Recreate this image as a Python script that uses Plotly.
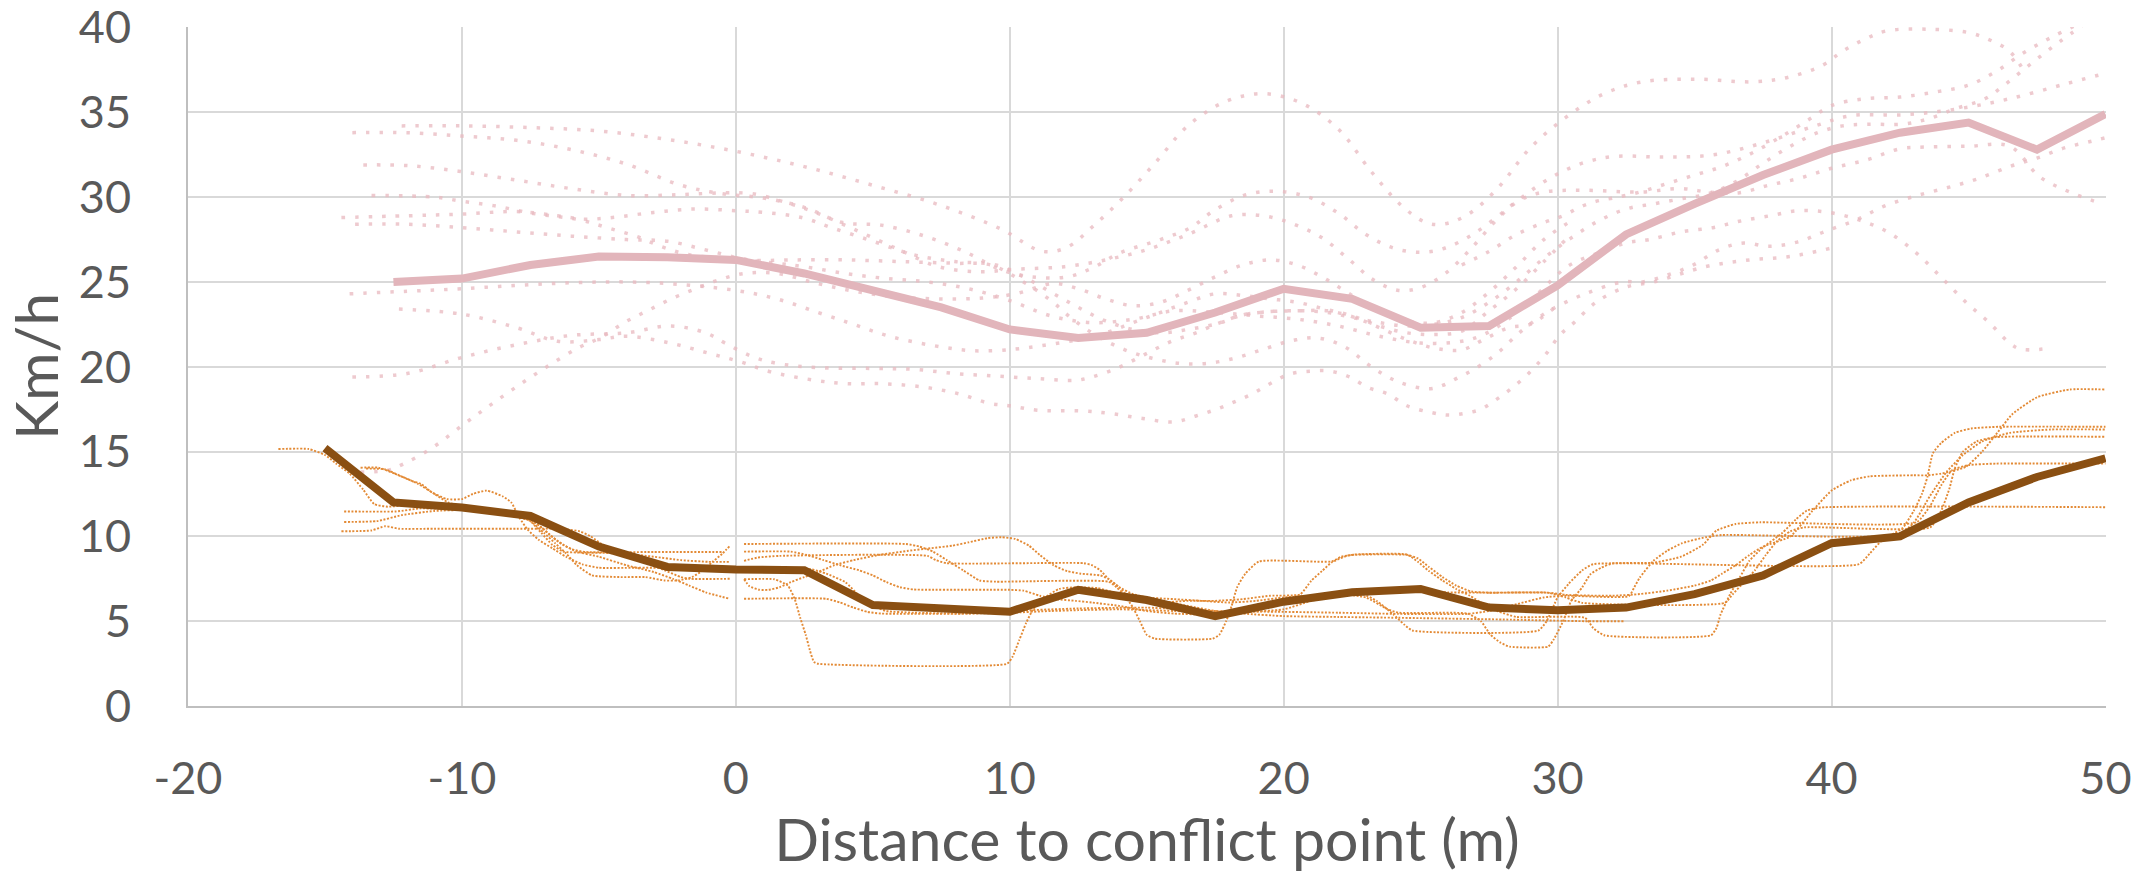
import plotly.graph_objects as go

# ---------------- mean curves ----------------
dist_pink_mean = [-12.5, -10, -7.5, -5, -2.5, 0, 2.5, 5, 7.5, 10, 12.5, 15, 17.5, 20,
                  22.5, 25, 27.5, 30, 32.5, 35, 37.5, 40, 42.5, 45, 47.5, 50]
speed_pink_mean = [25.0, 25.2, 26.0, 26.5, 26.45, 26.3, 25.5, 24.5, 23.5, 22.2, 21.7, 22.0, 23.2, 24.6,
                   24.0, 22.3, 22.4, 24.8, 27.8, 29.6, 31.3, 32.8, 33.8, 34.4, 32.8, 34.9]

dist_brown_mean = [-15, -12.5, -10, -7.5, -5, -2.5, 0, 2.5, 5, 7.5, 10, 12.5, 15, 17.5, 20,
                   22.5, 25, 27.5, 30, 32.5, 35, 37.5, 40, 42.5, 45, 47.5, 50]
speed_brown_mean = [15.2, 12.0, 11.7, 11.2, 9.4, 8.2, 8.05, 8.0, 5.95, 5.8, 5.56, 6.85, 6.25, 5.3, 6.15,
                    6.7, 6.9, 5.8, 5.65, 5.8, 6.6, 7.7, 9.6, 10.0, 12.0, 13.5, 14.6]

# ---------------- individual pink trajectories (distance, speed) ----------------
pink_01 = [(-12.2, 34.2), (-10, 34.2), (-7.5, 34.1), (-5, 33.9), (-2.5, 33.4), (0, 32.7), (2.5, 31.8), (5, 30.7),
           (7.5, 29.5), (9.7, 28.1), (11.2, 26.8), (12.1, 27.05), (13.05, 28.3), (14.1, 29.9), (15.3, 32.0),
           (16.5, 34.2), (17.9, 35.65), (19.3, 36.1), (20.7, 35.5), (22.0, 34.0), (23.2, 31.5), (24.3, 29.5),
           (25.2, 28.5), (25.8, 28.4), (26.7, 28.95), (27.8, 30.5), (29.0, 32.9), (30.3, 34.7), (31.7, 36.1),
           (33.1, 36.8), (35.1, 36.95), (37.2, 36.8), (38.5, 37.1), (39.7, 37.8), (40.4, 38.6), (41.2, 39.3),
           (42.0, 39.8), (43.5, 39.9), (45.0, 39.7), (45.8, 39.25), (46.5, 38.6), (47.0, 37.5)]
pink_02 = [(-14, 33.8), (-12, 33.8), (-10, 33.6), (-8, 33.35), (-6, 32.8), (-4, 31.95), (-2, 30.7), (-0.5, 30.2),
           (1, 29.95), (2.5, 29.4), (3.9, 28.5), (5.3, 28.35), (6.9, 27.7), (8.4, 26.75), (9.7, 25.7), (10.8, 25.3),
           (12.1, 25.3), (13.05, 25.85), (14.0, 26.7), (15.5, 27.5), (16.6, 28.2), (17.4, 29.15), (18.55, 30.1),
           (19.7, 30.35), (20.9, 30.0), (22.0, 29.05), (23.0, 27.8), (24.0, 27.0), (25.0, 26.75), (25.9, 27.0),
           (26.9, 27.8), (27.8, 28.85), (28.5, 29.75), (29.7, 31.1), (30.9, 32.0), (32.1, 32.4), (33.9, 32.36),
           (35.7, 32.5), (37.5, 33.2), (39.4, 34.2), (40.7, 34.8), (42.7, 34.86), (44.6, 35.2), (46.5, 35.8),
           (48.6, 36.7), (50, 37.3)]
pink_03 = [(-13.6, 31.9), (-11.9, 31.85), (-10, 31.5), (-8, 31.0), (-6, 30.5), (-4, 30.1), (-2, 30.15),
           (-0.5, 30.25), (0.6, 30.2), (1.8, 29.7), (2.9, 29.1), (4.5, 27.97), (6.0, 26.87), (7.4, 25.9),
           (8.9, 25.6), (10.2, 25.75), (12, 25.9), (13.5, 26.3), (15, 26.9), (16.5, 27.8), (18.1, 28.9),
           (19.25, 28.9), (20.3, 28.45), (21.4, 27.6), (22.4, 26.3), (23.3, 25.1), (24.2, 24.5), (25, 24.67),
           (25.9, 25.5), (26.86, 27.0), (27.8, 28.7), (28.6, 29.8), (29.5, 30.3), (31, 30.4), (33, 30.3),
           (34.5, 30.5), (35.5, 30.3), (36.6, 30.25), (37.7, 30.7), (38.8, 31.1), (40.0, 31.7), (41.3, 32.2),
           (42.5, 32.85), (43.4, 32.95), (45, 33.0), (46.5, 33.0), (47.6, 31.2), (48.7, 30.3), (49.8, 29.65)]
pink_04 = [(-13.3, 30.1), (-11, 30.0), (-10, 29.76), (-8.85, 29.5), (-7.4, 29.04), (-5.7, 28.66), (-4.7, 28.2),
           (-3.66, 27.7), (-2.66, 27.05), (-1.7, 26.6), (0.1, 26.34), (1.5, 26.1), (2.5, 25.9), (4, 25.5),
           (5.5, 25.2), (7, 25.0), (8.5, 24.6), (10, 23.9), (11.5, 23.0), (13, 22.6), (14.5, 22.8), (16, 23.3),
           (17.5, 23.2), (19, 23.0), (20.5, 22.8), (22, 22.4), (23.5, 21.8), (25, 21.4), (26.5, 21.5),
           (27.3, 21.9), (28.2, 22.8), (29.2, 24.2), (30.4, 25.95), (31.56, 26.75), (32.5, 27.3), (33.36, 27.5),
           (34.56, 27.97), (35.67, 28.2), (36.64, 28.58), (37.75, 28.9), (38.8, 29.2), (39.9, 29.1), (41.0, 28.66),
           (42.1, 27.9), (43.1, 26.7), (44.05, 25.2), (44.95, 23.74), (45.76, 22.6), (46.5, 21.4), (46.9, 21.04),
           (47.7, 21.04)]
pink_05 = [(-14.4, 28.8), (-12, 28.9), (-10, 29.0), (-8, 29.15), (-6.5, 28.9), (-5.5, 28.7), (-4.5, 28.8),
           (-3, 29.1), (-1.5, 29.3), (0, 29.2), (1, 29.1), (2.4, 28.8), (3.5, 28.2), (5, 27.4), (6.5, 26.6),
           (8, 26.2), (9.5, 26.0), (10.5, 25.3), (11.5, 24.4), (12.5, 23.5), (13.5, 22.7), (14.5, 22.2),
           (15.5, 22.0), (16.5, 22.2), (17.6, 22.55), (18.5, 23.05), (19.5, 23.25), (20.6, 23.3), (21.6, 23.2),
           (22.5, 22.9), (23.5, 22.6), (24.5, 22.4), (25.5, 22.5), (26.5, 22.9), (27.5, 23.8), (28.5, 25.0),
           (29.5, 26.4), (30.5, 27.6), (31.5, 28.6), (32.5, 29.3), (33.5, 29.6), (34.5, 29.9), (35.5, 30.2),
           (36.5, 30.9), (37.5, 32.0), (38.5, 33.0), (39.5, 33.8), (40.4, 34.2), (41.3, 34.3), (42.6, 34.3),
           (43.5, 34.6), (44.5, 35.2), (45.6, 35.8), (46.3, 36.6), (47.0, 37.5), (47.7, 38.4), (48.4, 39.25),
           (49.15, 40.1)]
pink_06 = [(-13.9, 28.4), (-12, 28.4), (-10, 28.2), (-8, 27.95), (-6, 27.7), (-4, 27.5), (-2.5, 27.4),
           (-1, 26.85), (0.5, 26.3), (2, 26.3), (4, 26.3), (6, 26.2), (8, 26.1), (9.3, 26.0), (10.5, 25.0),
           (11.5, 23.9), (12.3, 22.8), (13.2, 21.8), (14.2, 21.0), (15.2, 20.5), (16.2, 20.2), (17.2, 20.2),
           (18.2, 20.5), (19.2, 21.0), (20.2, 21.5), (21.2, 21.7), (22.2, 21.2), (23.2, 20.0), (24.2, 19.1),
           (25.3, 18.7), (25.8, 18.9), (26.3, 19.3), (27.0, 19.9), (27.8, 20.8), (28.6, 22.0), (29.4, 23.0),
           (29.86, 23.45), (31.0, 24.3), (32.36, 25.0), (33.1, 25.0), (34.0, 25.4), (34.95, 26.0), (35.9, 26.9),
           (36.8, 27.3), (37.7, 27.1), (38.75, 27.35), (39.75, 27.97), (40.9, 28.66), (41.9, 29.45), (43.0, 30.04),
           (44.16, 30.53), (45.3, 31.06), (46.5, 31.8), (47.5, 32.3), (48.5, 32.9), (49.5, 33.3), (50, 33.5)]
pink_07 = [(-14.1, 24.3), (-12, 24.45), (-10, 24.6), (-8, 24.8), (-6, 24.95), (-4, 25.0), (-2, 24.85), (0, 24.5),
           (1.5, 24.0), (3, 23.2), (4.3, 22.5), (5.6, 21.8), (7.2, 21.25), (8.7, 20.94), (10.2, 21.04),
           (11.4, 21.3), (12.5, 21.6), (13.5, 22.0), (14.5, 22.6), (15.5, 23.2), (16.5, 23.8), (17.5, 24.3),
           (18.5, 24.2), (19.5, 24.0), (20.5, 23.8), (21.5, 23.4), (22.5, 23.0), (23.5, 22.4), (24.5, 22.0),
           (25.5, 21.9), (26.5, 22.1), (27.5, 23.3), (28.5, 24.6), (29.5, 26.2), (30.3, 27.5)]
pink_08 = [(-12.3, 23.4), (-10, 23.1), (-8, 22.3), (-6.5, 21.5), (-5, 21.6), (-4, 21.8), (-2.4, 21.4), (-1, 20.8),
           (0.15, 20.3), (1.27, 19.7), (2.9, 19.2), (4.06, 19.0), (5.36, 19.0), (6.85, 18.8), (8.15, 18.4),
           (9.27, 17.84), (10, 17.7), (11, 17.44), (12.65, 17.4), (13.7, 17.24), (14.85, 16.95), (16.0, 16.75),
           (16.8, 17.1), (17.55, 17.5), (18.2, 17.93), (18.85, 18.4), (19.5, 19.0), (20.2, 19.56), (20.96, 19.74),
           (21.7, 19.74), (22.4, 19.4), (23.1, 18.76), (23.8, 18.4), (24.5, 17.7), (25.4, 17.3), (26.0, 17.15),
           (26.6, 17.25), (27.2, 17.5), (27.7, 18.0), (28.3, 18.7), (29.0, 19.7), (29.6, 20.8), (30.1, 21.9),
           (30.6, 22.6), (31.4, 23.8), (32.5, 24.7), (33.5, 25.0), (35.4, 25.9), (37, 26.3), (38.5, 26.5),
           (40, 27.0)]
pink_09 = [(-14, 19.4), (-12, 19.6), (-10, 20.55), (-8, 21.3), (-6, 21.85), (-4, 22.0), (-2.4, 22.4), (-1.1, 22.0),
           (-0.4, 21.4), (0.6, 20.6), (1.5, 20.2), (3, 19.95), (5, 19.9), (6.5, 19.85), (8, 19.6), (9.5, 19.45),
           (11, 19.3), (12.4, 19.2), (13.0, 19.4), (13.9, 19.9), (14.9, 20.7), (15.9, 21.5), (16.8, 22.0),
           (17.6, 22.55), (18.5, 23.05), (19.5, 23.25), (20.6, 23.3), (21.6, 23.3), (22.6, 22.9), (23.5, 22.3),
           (24.5, 21.6), (25.5, 21.1), (26.5, 21.0), (27.3, 21.6), (28.2, 22.3), (29.0, 22.5), (29.86, 23.45)]
pink_10 = [(-13.7, 13.8), (-12.7, 13.9), (-12.1, 14.3), (-11.1, 15.2), (-9.94, 16.6), (-9.0, 17.7), (-7.97, 18.86),
           (-6.86, 20.04), (-5.72, 21.14), (-4.9, 21.75), (-4.08, 22.6), (-3.23, 23.3), (-2.36, 24.0),
           (-1.47, 24.6), (-0.66, 25.1), (0.3, 25.5), (1.5, 25.5), (3.0, 24.9), (4.5, 24.4), (6.0, 24.1),
           (7.5, 24.0), (9.0, 24.05), (10.2, 24.3), (11.6, 24.9), (12.5, 24.6), (13.5, 24.0), (14.5, 23.6),
           (15.5, 23.8), (16.5, 24.5), (17.5, 25.3), (18.5, 26.0), (19.5, 26.3), (20.5, 26.0), (21.5, 25.2),
           (22.5, 24.2), (23.5, 23.3), (24.5, 22.7), (25.5, 22.6), (26.5, 23.2), (27.5, 24.4), (28.5, 25.9),
           (29.5, 27.5), (30.5, 28.6)]
pink_11 = [(26.5, 26.0), (27.5, 26.8), (28.5, 27.8), (29.5, 28.5), (30.2, 28.9), (30.8, 29.4), (31.4, 29.75),
           (32.0, 29.94), (33.0, 30.3), (34.0, 30.8), (35.0, 31.3), (36.0, 31.8), (37.1, 32.6), (38.2, 33.6),
           (39.2, 34.6), (40.0, 35.4), (41.2, 35.8), (42.5, 35.9), (43.8, 36.2), (45.0, 36.6), (46.0, 37.4),
           (47.0, 38.5), (48.0, 39.4), (49.0, 40.2)]

# ---------------- individual orange trajectories (distance, speed) ----------------
orange_01 = [(-16.7, 15.15), (-15.6, 15.15), (-15.0, 14.8), (-14.6, 14.3), (-14.1, 13.7), (-13.6, 12.75),
             (-13.2, 11.9), (-12.7, 11.75), (-12.0, 11.85), (-11.0, 11.9), (-10.0, 11.7), (-9.0, 11.4),
             (-8.0, 11.25), (-7.5, 11.0), (-7.0, 10.4), (-6.5, 9.7), (-6.0, 9.25), (-5.5, 9.08), (-3.0, 9.08),
             (-0.45, 9.08)]
orange_02 = [(-13.7, 14.05), (-13.05, 14.05), (-12.45, 13.7), (-11.8, 13.25), (-11.5, 13.1), (-11.1, 12.6),
             (-10.55, 12.2), (-10.0, 12.2), (-9.6, 12.5), (-9.1, 12.7), (-8.5, 12.35), (-8.2, 12.0), (-7.9, 11.1),
             (-7.6, 10.4), (-7.2, 9.8), (-6.7, 9.3), (-6.2, 8.8), (-5.6, 8.35), (-5.0, 8.15), (-3.7, 8.15),
             (-2.0, 8.15), (-0.2, 8.15)]
orange_03 = [(-14.3, 11.47), (-12.4, 11.47), (-11.5, 11.65), (-10.0, 11.55), (-9.0, 11.4), (-8.0, 11.15),
             (-7.5, 10.9), (-7.0, 10.2), (-6.6, 9.6), (-6.2, 9.0), (-5.8, 8.3), (-5.25, 7.7), (-4.2, 7.6),
             (-3.3, 7.6), (-2.6, 7.4), (-2.1, 7.4), (-1.6, 7.6), (-1.2, 8.0), (-0.85, 8.5), (-0.5, 8.97),
             (-0.2, 9.47)]
orange_04 = [(-14.3, 10.85), (-13.1, 10.9), (-12.2, 11.25), (-11.0, 11.5), (-10.0, 11.55), (-9.0, 11.45),
             (-8.0, 11.3), (-7.5, 10.9), (-7.1, 10.2), (-6.7, 9.5), (-6.3, 9.1), (-5.8, 9.05), (-4.5, 9.0),
             (-3.5, 8.6), (-2.6, 8.0), (-2.0, 7.6), (-1.7, 7.5), (-0.2, 7.5)]
orange_05 = [(-14.4, 10.3), (-13.3, 10.35), (-12.8, 10.6), (-12.3, 10.45), (-11.0, 10.45), (-8.0, 10.45),
             (-6.5, 10.45), (-6.1, 10.4), (-5.7, 10.3), (-5.3, 10.0), (-4.9, 9.55), (-4.4, 9.2), (-4.0, 9.0),
             (-3.0, 8.8), (-2.0, 8.6), (-1.0, 8.5), (-0.2, 8.5)]
orange_06 = [(-13.5, 14.0), (-12.8, 13.95), (-12.3, 13.6), (-11.6, 13.1), (-11.0, 12.5), (-10.5, 12.0),
             (-10.0, 11.8), (-9.0, 11.6), (-8.0, 11.4), (-7.3, 10.8), (-6.8, 10.1), (-6.3, 9.5), (-5.8, 9.1),
             (-5.0, 8.8), (-4.0, 8.3), (-3.0, 7.9), (-2.3, 7.5), (-1.7, 7.1), (-1.1, 6.7), (-0.25, 6.33)]
orange_07 = [(0.3, 9.55), (6.2, 9.55), (6.7, 9.4), (7.2, 9.1), (7.7, 8.6), (8.3, 8.0), (8.9, 7.4), (9.5, 7.33),
             (13.6, 7.33), (13.9, 7.0), (14.2, 6.5), (14.5, 5.8), (14.75, 5.0), (15.0, 4.2), (15.3, 3.97),
             (17.4, 3.97), (17.65, 4.2), (17.9, 5.0), (18.1, 5.9), (18.3, 7.0), (18.6, 7.8), (19.1, 8.52),
             (21.75, 8.52), (22.1, 8.8), (22.5, 8.91), (24.5, 8.91), (24.9, 8.7), (25.3, 8.2), (25.8, 7.6),
             (26.3, 7.1), (26.85, 6.75), (27.5, 6.68), (29.65, 6.68), (30.3, 6.4), (30.9, 6.08), (36.1, 6.08),
             (36.4, 6.6), (36.8, 7.3), (37.2, 8.0), (37.6, 8.9), (38.0, 9.7), (38.5, 10.3), (39.0, 10.53),
             (43.6, 10.53), (44.0, 11.5), (44.3, 12.8), (44.5, 14.0), (44.8, 15.0), (45.3, 15.6), (46.0, 15.85),
             (50, 15.87)]
orange_08 = [(0.3, 9.1), (2.0, 9.1), (2.6, 8.9), (3.2, 8.6), (3.8, 8.3), (4.5, 8.0), (5.0, 7.7), (5.5, 7.3),
             (6.0, 7.0), (6.5, 6.87), (10.0, 6.85), (10.5, 6.8), (11.1, 6.5), (11.7, 6.3), (12.4, 6.2),
             (13.0, 6.1), (14.0, 5.9), (15, 5.6), (16, 5.45), (17, 5.4), (18, 5.5), (19, 5.9), (20, 6.3),
             (21, 6.5), (22, 6.6), (23, 6.4), (23.8, 5.7), (24.2, 5.5), (26.7, 5.45), (27.2, 5.0), (27.55, 4.2),
             (27.9, 3.75), (28.25, 3.5), (29.65, 3.5), (29.85, 3.9), (30.2, 5.0), (30.5, 6.2), (30.9, 7.0),
             (31.2, 7.77), (31.6, 8.16), (32.0, 8.4), (33.5, 8.45), (34.5, 8.8), (35.3, 9.5), (35.8, 10.34),
             (36.5, 10.73), (37.4, 10.83), (43.1, 10.83), (43.6, 11.8), (44.0, 13.0), (44.4, 13.9), (45.0, 14.2),
             (46.0, 14.29), (50, 14.29)]
orange_09 = [(0.3, 8.56), (0.8, 8.75), (1.6, 8.85), (7.0, 8.85), (7.3, 8.6), (7.7, 8.42), (12.7, 8.42),
             (13.0, 8.3), (13.3, 8.0), (13.6, 7.5), (14.0, 7.0), (14.3, 6.5), (14.8, 6.2), (15.5, 6.1), (16.5, 6.2),
             (17.5, 6.2), (18.5, 6.3), (19.5, 6.5), (20.6, 6.58), (21.0, 7.37), (21.4, 7.96), (21.75, 8.46),
             (22.3, 8.85), (22.6, 8.93), (24.5, 8.93), (24.9, 8.5), (25.3, 7.96), (25.8, 7.4), (26.3, 6.9),
             (26.8, 6.5), (27.3, 6.0), (27.8, 5.6), (28.5, 5.25), (31.0, 5.2), (31.3, 4.6), (31.7, 4.17),
             (35.6, 4.17), (35.8, 4.6), (35.95, 5.4), (36.3, 6.6), (36.65, 7.57), (37.0, 8.56), (37.5, 9.35),
             (38.2, 10.2), (38.7, 11.0), (39.1, 11.52), (39.6, 11.7), (50, 11.72)]
orange_10 = [(0.3, 8.06), (2.75, 8.06), (3.3, 7.8), (4.0, 7.3), (4.5, 6.5), (5.0, 5.9), (5.5, 5.6), (6.5, 5.5),
             (8.5, 5.45), (10.0, 5.5), (11.5, 5.6), (12.5, 5.65), (14.0, 5.7), (16.0, 5.6), (18.0, 5.5),
             (20.0, 5.7), (21.0, 6.2), (22.0, 6.5), (22.9, 6.58), (23.4, 6.19), (24.0, 5.4), (24.4, 4.8),
             (24.7, 4.45), (29.3, 4.45), (29.6, 5.0), (30.0, 6.4), (30.4, 7.2), (30.9, 8.0), (31.3, 8.36),
             (41.0, 8.36), (41.4, 9.0), (41.8, 9.7), (42.2, 10.1), (42.6, 10.5), (43.0, 11.5), (43.3, 12.5),
             (43.5, 13.5), (43.7, 14.9), (44.0, 15.5), (44.5, 16.1), (45.1, 16.36), (46.1, 16.46), (50, 16.46)]
orange_11 = [(0.3, 7.47), (1.4, 7.47), (1.9, 7.1), (2.15, 6.3), (2.35, 5.2), (2.55, 4.2), (2.7, 3.3), (2.85, 2.6),
             (3.0, 2.49), (9.9, 2.49), (10.1, 2.9), (10.35, 3.9), (10.6, 4.9), (10.85, 5.7), (11.2, 6.3),
             (11.8, 6.9), (12.45, 7.0), (13.2, 6.95), (13.8, 6.7), (14.5, 6.4), (15.5, 6.2), (16.5, 5.9),
             (17.5, 5.6), (18.5, 5.45), (20.0, 5.3), (22.0, 5.25), (24.2, 5.2), (28.0, 5.1), (31.0, 5.0),
             (32.45, 5.0)]
orange_12 = [(0.3, 7.47), (0.5, 7.06), (0.86, 6.85), (1.2, 6.85), (1.6, 7.0), (2.0, 7.3), (2.5, 7.6), (3.0, 7.9),
             (3.6, 8.3), (4.3, 8.6), (5.2, 8.9), (6.3, 9.15), (7.1, 9.3), (7.9, 9.45), (8.5, 9.65), (9.2, 9.9),
             (9.7, 9.95), (10.2, 9.85), (10.7, 9.45), (11.1, 8.9), (11.6, 8.3), (12.1, 7.95), (12.6, 7.8),
             (13.3, 7.7), (13.6, 7.5), (14.0, 7.0), (14.5, 6.6), (15.0, 6.4), (16.0, 6.3), (17.0, 6.2), (18.0, 6.1),
             (19.0, 6.2), (20.0, 6.4), (21.0, 6.5), (22.0, 6.65), (23.0, 6.75), (24.2, 6.8), (26.0, 6.7),
             (27.5, 6.68), (29.65, 6.68), (30.3, 6.55), (32.0, 6.5), (33.0, 6.6), (34.0, 6.8), (35.0, 7.1),
             (35.6, 7.4), (36.0, 7.8), (36.5, 8.3), (37.0, 8.9), (37.5, 9.4), (38.5, 10.0), (39.3, 11.5),
             (40.0, 12.7), (40.7, 13.3), (41.4, 13.54), (43.0, 13.6), (43.5, 13.6), (44.0, 13.7), (44.9, 14.1),
             (45.5, 15.0), (46.0, 16.0), (46.6, 17.2), (47.5, 18.2), (48.7, 18.66), (50, 18.66)]
orange_13 = [(0.3, 6.32), (3.3, 6.32), (3.8, 6.1), (4.3, 5.8), (4.8, 5.55), (5.3, 5.45), (8.5, 5.45), (10.0, 5.6),
             (12.5, 5.75), (15.0, 5.8), (17.5, 5.6), (20.0, 5.55), (22.0, 5.5), (24.2, 5.43), (26.7, 5.43),
             (27.5, 5.6), (28.5, 6.0), (29.5, 6.4), (30.3, 6.5), (32.6, 6.48), (32.8, 7.0), (33.0, 7.57),
             (33.5, 8.56), (34.0, 9.15), (34.55, 9.6), (35.4, 9.95), (36.0, 10.08), (42.4, 10.08), (43.0, 10.8),
             (43.6, 12.4), (44.2, 13.8), (44.8, 14.8), (45.5, 15.6), (46.5, 16.1), (48.0, 16.3), (50, 16.3)]

pink_tracks = [pink_01, pink_02, pink_03, pink_04, pink_05, pink_06, pink_07, pink_08, pink_09, pink_10, pink_11]
orange_tracks = [orange_01, orange_02, orange_03, orange_04, orange_05, orange_06, orange_07, orange_08,
                 orange_09, orange_10, orange_11, orange_12, orange_13]

x_ticks = [-20, -10, 0, 10, 20, 30, 40, 50]
y_ticks = [0, 5, 10, 15, 20, 25, 30, 35, 40]

fig = go.Figure()

for trk in pink_tracks:
    fig.add_trace(go.Scatter(
        x=[p[0] for p in trk], y=[p[1] for p in trk], mode="lines",
        line=dict(color="rgba(232,184,191,0.75)", width=3.5, dash="3.5px,10px", shape="spline", smoothing=1.0),
        hoverinfo="skip", showlegend=False))

for trk in orange_tracks:
    fig.add_trace(go.Scatter(
        x=[p[0] for p in trk], y=[p[1] for p in trk], mode="lines",
        line=dict(color="#E38A35", width=1.9, dash="2px,1.6px", shape="spline", smoothing=0.5),
        hoverinfo="skip", showlegend=False))

fig.add_trace(go.Scatter(x=dist_pink_mean, y=speed_pink_mean, mode="lines",
                         line=dict(color="#E2B5BB", width=8), hoverinfo="skip", showlegend=False))
fig.add_trace(go.Scatter(x=dist_brown_mean, y=speed_brown_mean, mode="lines",
                         line=dict(color="#8A4F12", width=8), hoverinfo="skip", showlegend=False))

tick_font = dict(family="Lato, 'Open Sans', sans-serif", size=45, color="#595959")
title_font = dict(family="Lato, 'Open Sans', sans-serif", size=59, color="#595959")

fig.update_layout(
    width=2151, height=874,
    margin=dict(l=188, r=45, t=27, b=168, autoexpand=False),
    paper_bgcolor="white", plot_bgcolor="white",
    xaxis=dict(range=[-20, 50.02], tickvals=x_ticks, ticktext=[str(v) for v in x_ticks],
               automargin=False,
               showgrid=True, gridcolor="#D9D9D9", gridwidth=2, zeroline=False,
               showline=True, linecolor="#BFBFBF", linewidth=2,
               tickfont=tick_font, ticks="", ticklabelstandoff=32, ticklabeloverflow="allow",
               title=dict(text="Distance to conflict point (m)", font=title_font, standoff=24)),
    yaxis=dict(range=[0, 40.03], tickvals=y_ticks, ticktext=[str(v) for v in y_ticks],
               automargin=False,
               showgrid=True, gridcolor="#D9D9D9", gridwidth=2, zeroline=False,
               showline=True, linecolor="#BFBFBF", linewidth=2,
               tickfont=tick_font, ticks="", ticklabelstandoff=46, ticklabeloverflow="allow",
               title=dict(text="Km/h", font=title_font, standoff=22)),
)

fig.write_html("out.html")
